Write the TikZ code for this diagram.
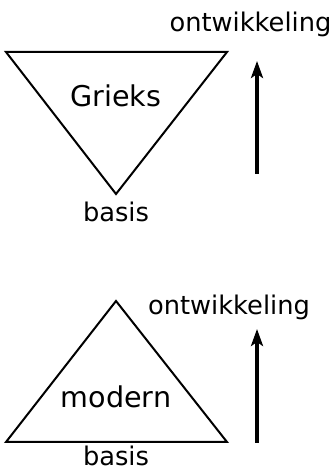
\documentclass[tikz,border=0pt]{standalone}
\usepackage{fontspec}
\setmainfont{DejaVu Sans}
\usetikzlibrary{arrows.meta}
\begin{document}
\begin{tikzpicture}[x=1pt,y=1pt,
  tri/.style={draw=black,line width=2pt,line join=miter},
  devarrow/.style={line width=4.2pt,-{Stealth[length=17pt,width=12pt,inset=4pt]}},
  lbl/.style={anchor=base,inner sep=0pt,font=\fontsize{25.7}{30}\selectfont},
  inlbl/.style={anchor=base,inner sep=0pt,font=\fontsize{28.6}{34}\selectfont}]
\useasboundingbox (0,0) rectangle (336,469);
% top (inverted) triangle
\coordinate (tA) at (6,417);
\coordinate (tB) at (227,417);
\coordinate (tC) at (116,275);
\draw[tri] (tA) -- (tB) -- (tC) -- cycle;
\node[inlbl] (grieks) at (116,362) {Grieks};
\node[lbl] (basis1) at (116,247) {basis};
\coordinate (a1s) at (257,295);
\coordinate (a1e) at (257,408);
\draw[devarrow] (a1s) -- (a1e);
\node[lbl] (ontw1) at (250.5,437.5) {ontwikkeling};
% bottom triangle
\coordinate (bA) at (6,27);
\coordinate (bB) at (227,27);
\coordinate (bC) at (116,168);
\draw[tri] (bA) -- (bB) -- (bC) -- cycle;
\node[inlbl] (modern) at (116,61) {modern};
\node[lbl] (basis2) at (116,3.5) {basis};
\coordinate (a2s) at (257,26);
\coordinate (a2e) at (257,140);
\draw[devarrow] (a2s) -- (a2e);
\node[lbl] (ontw2) at (229,154) {ontwikkeling};
\end{tikzpicture}
\end{document}
